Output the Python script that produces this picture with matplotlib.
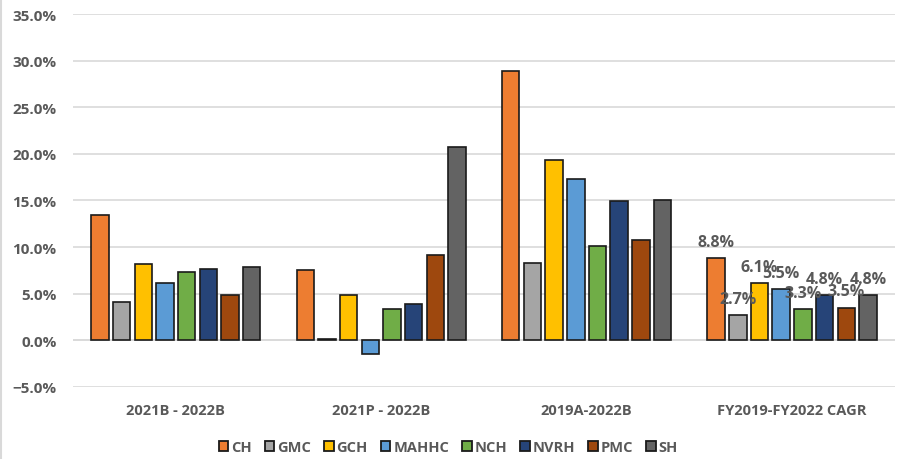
import numpy as np
import matplotlib.pyplot as plt
from matplotlib.patches import Patch
from matplotlib.ticker import PercentFormatter

plt.rcParams['font.family'] = ['Open Sans', 'DejaVu Sans']

categories = ['2021B - 2022B', '2021P - 2022B', '2019A-2022B', 'FY2019-FY2022 CAGR']
series = ['CH', 'GMC', 'GCH', 'MAHHC', 'NCH', 'NVRH', 'PMC', 'SH']
colors = ['#ED7D31', '#A5A5A5', '#FFC000', '#5B9BD5', '#70AD47', '#264478', '#9E480E', '#636363']

# values in % per series, one entry per category
ch = [13.4, 7.5, 28.9, 8.8]
gmc = [4.1, 0.1, 8.3, 2.7]
gch = [8.2, 4.8, 19.3, 6.1]
mahhc = [6.1, -1.5, 17.3, 5.5]
nch = [7.3, 3.3, 10.1, 3.3]
nvrh = [7.6, 3.9, 14.9, 4.8]
pmc = [4.9, 9.2, 10.8, 3.5]
sh = [7.9, 20.7, 15.1, 4.8]
values = [ch, gmc, gch, mahhc, nch, nvrh, pmc, sh]

fig = plt.figure(figsize=(9.02, 4.6), dpi=100)
ax = fig.add_axes([0.081, 0.157, 0.911, 0.81])

x = np.arange(len(categories))
pitch = 0.1056
width = 0.085
text_col = '#595959'

for i, (name, vals, c) in enumerate(zip(series, values, colors)):
    pos = x + (i - 3.5) * pitch
    ax.bar(pos, vals, width, color=c, edgecolor='#1a1a1a', linewidth=1.2,
           label=name, zorder=3)
    # only the CAGR group carries labels
    v = vals[3]
    ax.annotate(f'{v:.1f}%', (pos[3], v), xytext=(0, 6), textcoords='offset points',
                ha='center', va='bottom', fontsize=11.5, fontweight='bold',
                color=text_col, zorder=4)

ax.set_xlim(-0.5, 3.5)
ax.set_ylim(-5, 35)
ax.set_yticks(np.arange(-5, 36, 5))
ax.yaxis.set_major_formatter(PercentFormatter(decimals=1))
ax.set_xticks(x)
ax.set_xticklabels(categories)
ax.grid(axis='y', color='#D9D9D9', linewidth=1.2, zorder=0)
ax.axhline(0, color='#D9D9D9', linewidth=1.2, zorder=1)
for s in ax.spines.values():
    s.set_visible(False)
ax.tick_params(length=0)
ax.tick_params(axis='y', labelsize=11, labelcolor=text_col, pad=12)
ax.tick_params(axis='x', labelsize=10.5, labelcolor=text_col, pad=12)
for lab in ax.get_xticklabels() + ax.get_yticklabels():
    lab.set_fontweight('bold')

handles = [Patch(facecolor=c, edgecolor='#1a1a1a', linewidth=1.3) for c in colors]
leg = fig.legend(handles, series, loc='center', bbox_to_anchor=(0.497, 0.026), ncol=8,
                 frameon=False, fontsize=10.5, handlelength=0.65, handleheight=0.65,
                 handletextpad=0.2, columnspacing=0.9)
for t in leg.get_texts():
    t.set_color(text_col)
    t.set_fontweight('bold')

fig.add_artist(plt.Line2D([0.001, 0.001], [0, 1], color='#D9D9D9', linewidth=1.5,
                          transform=fig.transFigure))

fig.savefig('out.png', dpi=100)
